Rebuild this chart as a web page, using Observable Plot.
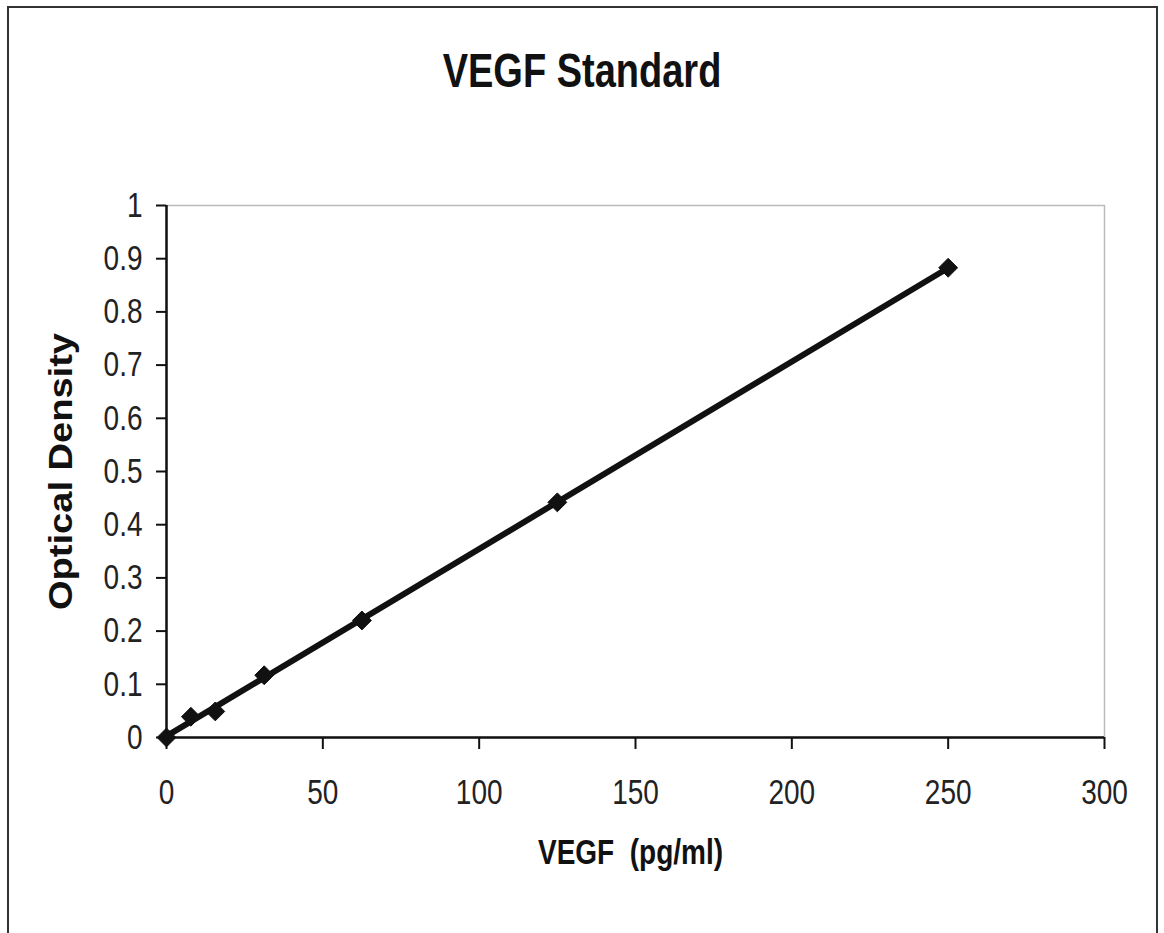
<!DOCTYPE html>
<html>
<head>
<meta charset="utf-8">
<script src="https://cdn.jsdelivr.net/npm/d3@7"></script>
<script src="https://cdn.jsdelivr.net/npm/@observablehq/plot@0.6"></script>
<style>
  html, body { margin: 0; padding: 0; background: #fff; }
  #wrap { position: relative; width: 1164px; height: 933px; overflow: hidden; background: #fff; }
  #frame { position: absolute; left: 7px; top: 6px; width: 1151px; height: 1000px; border: 2.5px solid #333; box-sizing: border-box; }
  #title { position: absolute; left: 0; width: 1164px; top: 47px; line-height: 46px; text-align: center; font-family: "Liberation Sans", Arial, sans-serif; font-weight: bold; font-size: 38px; color: #111; transform: scaleY(1.27); transform-origin: 50% 50%; }
  #chart { position: absolute; left: 0; top: 0; }
  #chart svg { overflow: visible; }
</style>
</head>
<body>
<div id="wrap">
  <div id="frame"></div>
  <div id="chart"></div>
  <div id="title">VEGF Standard</div>
</div>
<script>
const concentration = [0, 7.8, 15.6, 31.25, 62.5, 125, 250];
const opticalDensity = [0, 0.039, 0.049, 0.117, 0.220, 0.442, 0.883];
const xTicks = [0, 50, 100, 150, 200, 250, 300];
const yTicks = [0, 0.1, 0.2, 0.3, 0.4, 0.5, 0.6, 0.7, 0.8, 0.9, 1];
const titleText = "VEGF Standard";
const xLabel = "VEGF  (pg/ml)";
const yLabel = "Optical Density";

const data = concentration.map((c, i) => ({x: c, y: opticalDensity[i]}));

const chart = Plot.plot({
  width: 1164,
  height: 933,
  marginLeft: 166,
  marginRight: 60,
  marginTop: 205,
  marginBottom: 196,
  style: {fontFamily: "'Liberation Sans', Arial, sans-serif", fontSize: "28px", color: "#222", background: "transparent"},
  x: {domain: [0, 300]},
  y: {domain: [0, 1]},
  marks: [
    Plot.frame({stroke: "#bbb", strokeWidth: 1.5}),
    Plot.axisX({ticks: xTicks, tickSize: 12, tickPadding: 30, fontSize: 28, tickFormat: d => String(d), label: null, stroke: "#111", strokeWidth: 2}),
    Plot.axisY({ticks: yTicks, tickSize: 10, tickPadding: 14, fontSize: 28, tickFormat: d => String(+d.toFixed(1)), label: null, stroke: "#111", strokeWidth: 2}),
    Plot.ruleY([0], {stroke: "#111", strokeWidth: 2.5}),
    Plot.ruleX([0], {stroke: "#111", strokeWidth: 2.5}),
    Plot.linearRegressionY(data, {x: "x", y: "y", ci: 0, stroke: "#111", strokeWidth: 6}),
    Plot.dot(data, {x: "x", y: "y", symbol: "diamond2", r: 8.5, fill: "#111", stroke: "#111", strokeWidth: 1}),
    Plot.text([xLabel], {frameAnchor: "bottom", dx: -5, dy: 126, fontWeight: "bold", fontSize: 28, fill: "#111"}),
    Plot.text([yLabel], {frameAnchor: "left", textAnchor: "middle", dx: -105, rotate: -90, fontWeight: "bold", fontSize: 34, fill: "#111"})
  ]
});

// vertical stretch of the texts, as in the reference rendering
function stretch(el, sx, sy) {
  const t = el.getAttribute("transform");
  if (t) el.setAttribute("transform", t + ` scale(${sx},${sy})`);
  else {
    const x = +el.getAttribute("x") || 0, y = +el.getAttribute("y") || 0;
    el.setAttribute("transform", `translate(${x},${y}) scale(${sx},${sy}) translate(${-x},${-y})`);
  }
}
chart.querySelectorAll('g[aria-label="x-axis tick label"] text, g[aria-label="y-axis tick label"] text')
  .forEach(el => stretch(el, 1, 1.25));
chart.querySelectorAll("text").forEach(el => {
  if (el.textContent === yLabel) stretch(el, 1.12, 1);
  if (el.textContent === xLabel) stretch(el, 1, 1.25);
});
document.getElementById("chart").appendChild(chart);
</script>
</body>
</html>
